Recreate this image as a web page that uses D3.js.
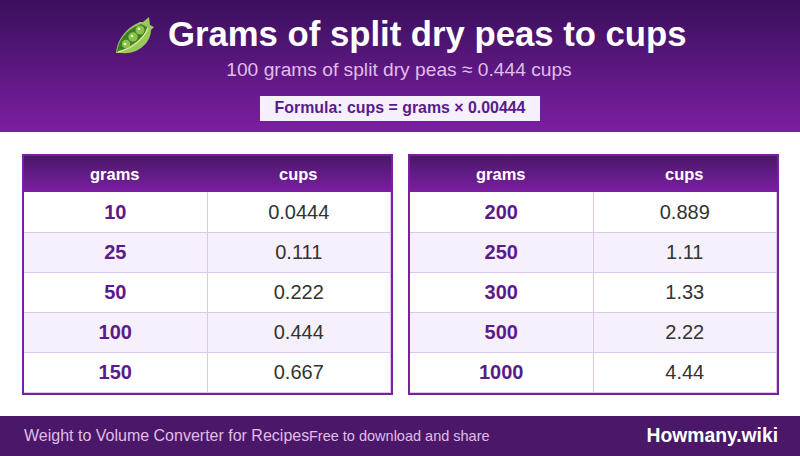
<!DOCTYPE html>
<html>
<head>
<meta charset="utf-8">
<script src="https://cdn.jsdelivr.net/npm/d3@7"></script>
<style>
  html, body { margin: 0; padding: 0; background: #fff; }
  svg { display: block; }
  text { font-family: "Liberation Sans", Arial, sans-serif; text-rendering: optimizeSpeed; }
</style>
</head>
<body>
<script>
var titleText = "Grams of split dry peas to cups";
var subtitleText = "100 grams of split dry peas ≈ 0.444 cups";
var formulaText = "Formula: cups = grams × 0.00444";
var columnNames = ["grams", "cups"];
var gramsLeft = ["10", "25", "50", "100", "150"];
var cupsLeft = ["0.0444", "0.111", "0.222", "0.444", "0.667"];
var gramsRight = ["200", "250", "300", "500", "1000"];
var cupsRight = ["0.889", "1.11", "1.33", "2.22", "4.44"];
var footerLeft = "Weight to Volume Converter for Recipes";
var footerMiddle = "Free to download and share";
var footerBrand = "Howmany.wiki";

var width = 800;
var height = 456;
var purple = "#7b1fa2";
var headerTop = "#3a0f5c";
var tint = "#f5f0fb";
var rule = "#dcc8ea";

var svg = d3.select("body").append("svg")
  .attr("width", width)
  .attr("height", height);

var defs = svg.append("defs");

function addGradient(id, from, to) {
  var g = defs.append("linearGradient")
    .attr("id", id)
    .attr("x1", 0).attr("y1", 0)
    .attr("x2", 0).attr("y2", 1);
  g.append("stop").attr("offset", "0%").attr("stop-color", from);
  g.append("stop").attr("offset", "100%").attr("stop-color", to);
}
addGradient("bannerFill", headerTop, purple);
addGradient("headFill", "#4a1769", purple);

// banner
svg.append("rect")
  .attr("width", width)
  .attr("height", 132)
  .attr("fill", "url(#bannerFill)");

drawPod(svg.append("g").attr("transform", "translate(116,16)"));

svg.append("text")
  .attr("x", 168)
  .attr("y", 46)
  .attr("font-size", 34.7)
  .attr("font-weight", "bold")
  .attr("fill", "#fff")
  .text(titleText);

svg.append("text")
  .attr("x", 399)
  .attr("y", 76)
  .attr("text-anchor", "middle")
  .attr("font-size", 19.2)
  .attr("fill", "#e1bee7")
  .text(subtitleText);

svg.append("rect")
  .attr("x", 260)
  .attr("y", 96)
  .attr("width", 280)
  .attr("height", 25)
  .attr("fill", tint);

svg.append("text")
  .attr("x", 400)
  .attr("y", 113)
  .attr("text-anchor", "middle")
  .attr("font-size", 15.9)
  .attr("font-weight", "bold")
  .attr("fill", "#5b1a8c")
  .text(formulaText);

makeTable(22, gramsLeft, cupsLeft);
makeTable(408, gramsRight, cupsRight);

// footer
svg.append("rect")
  .attr("y", 416)
  .attr("width", width)
  .attr("height", 40)
  .attr("fill", "#4a1769");

svg.append("text")
  .attr("x", 24)
  .attr("y", 441)
  .attr("font-size", 16)
  .attr("fill", "#e1bee7")
  .text(footerLeft);

svg.append("text")
  .attr("x", 309)
  .attr("y", 441)
  .attr("font-size", 14.5)
  .attr("fill", "#e1bee7")
  .text(footerMiddle);

svg.append("text")
  .attr("x", 778)
  .attr("y", 442)
  .attr("text-anchor", "end")
  .attr("font-size", 19.3)
  .attr("font-weight", "bold")
  .attr("fill", "#fff")
  .text(footerBrand);

function makeTable(left, grams, cups) {
  var x = d3.scaleBand()
    .domain(columnNames)
    .range([2, 369]);
  var y = d3.scaleBand()
    .domain(grams)
    .range([38, 238]);

  var table = svg.append("g")
    .attr("transform", "translate(" + left + ",154)");

  // zebra rows
  table.selectAll(".row")
    .data(grams)
    .enter()
    .append("rect")
    .attr("class", "row")
    .attr("x", 2)
    .attr("y", function(d) { return y(d); })
    .attr("width", 367)
    .attr("height", y.bandwidth() + 1)
    .attr("fill", function(d, i) { return i % 2 ? tint : "#fff"; });

  table.append("rect")
    .attr("x", 2)
    .attr("y", 2)
    .attr("width", 367)
    .attr("height", 36)
    .attr("fill", "url(#headFill)");

  // row rules
  table.selectAll(".rule")
    .data(grams)
    .enter()
    .append("rect")
    .attr("class", "rule")
    .attr("x", 2)
    .attr("y", function(d) { return y(d) + y.bandwidth(); })
    .attr("width", 367)
    .attr("height", 1)
    .attr("fill", rule);

  table.append("rect")
    .attr("x", 185)
    .attr("y", 38)
    .attr("width", 1)
    .attr("height", 200)
    .attr("fill", rule);

  table.append("rect")
    .attr("x", 368)
    .attr("y", 38)
    .attr("width", 1)
    .attr("height", 200)
    .attr("fill", rule);

  table.append("rect")
    .attr("x", 1)
    .attr("y", 1)
    .attr("width", 369)
    .attr("height", 239)
    .attr("fill", "none")
    .attr("stroke", purple)
    .attr("stroke-width", 2);

  table.selectAll(".head")
    .data(columnNames)
    .enter()
    .append("text")
    .attr("class", "head")
    .attr("x", function(d) { return x(d) + x.bandwidth() / 2 - 1; })
    .attr("y", 26)
    .attr("text-anchor", "middle")
    .attr("font-size", 16.5)
    .attr("font-weight", "bold")
    .attr("fill", "#fff")
    .text(function(d) { return d; });

  table.selectAll(".grams")
    .data(grams)
    .enter()
    .append("text")
    .attr("class", "grams")
    .attr("x", x("grams") + x.bandwidth() / 2 - 0.5)
    .attr("y", function(d) { return y(d) + 27; })
    .attr("text-anchor", "middle")
    .attr("font-size", 20)
    .attr("font-weight", "bold")
    .attr("fill", "#5b1a8c")
    .text(function(d) { return d; });

  table.selectAll(".cups")
    .data(cups)
    .enter()
    .append("text")
    .attr("class", "cups")
    .attr("x", x("cups") + x.bandwidth() / 2 - 0.5)
    .attr("y", function(d, i) { return y(grams[i]) + 27; })
    .attr("text-anchor", "middle")
    .attr("font-size", 20)
    .attr("fill", "#333")
    .text(function(d) { return d; });
}

// pea pod icon, no emoji font here so it is drawn by hand
function drawPod(g) {
  g.append("path")
    .attr("d", "M0,37 C1,25 8,13 24,6 L27,6 L33,1 L34,9 L38,11 L35,14 C35,27 21,39 6,37 C3,37 1,37 0,37 Z")
    .attr("fill", "#97ca5a");
  g.append("path")
    .attr("d", "M1,36 C2,25 9,14 25,8 L31,11 C30,20 18,30 1,36 Z")
    .attr("fill", "#3f7d2a");
  g.append("path")
    .attr("d", "M2,36 C15,33 28,23 32,12")
    .attr("fill", "none")
    .attr("stroke", "#dbe68f")
    .attr("stroke-width", 1.4);
  g.selectAll(".pea")
    .data([[10, 28, 4.2], [17, 21, 4.7], [24, 14, 4.5]])
    .enter()
    .append("circle")
    .attr("cx", function(d) { return d[0]; })
    .attr("cy", function(d) { return d[1]; })
    .attr("r", function(d) { return d[2]; })
    .attr("fill", "#8bc34a");
  g.selectAll(".shine")
    .data([[9, 28], [16, 20], [23, 13]])
    .enter()
    .append("circle")
    .attr("cx", function(d) { return d[0]; })
    .attr("cy", function(d) { return d[1]; })
    .attr("r", 1.3)
    .attr("fill", "#eef7dc");
}
</script>
</body>
</html>
